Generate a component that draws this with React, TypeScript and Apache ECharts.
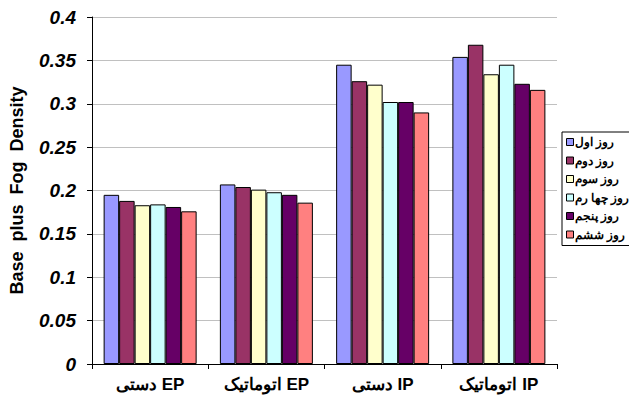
import React, { useEffect, useRef } from "react";
import * as echarts from "echarts";

const categories = ["دستی EP", "اتوماتیک EP", "دستی IP", "اتوماتیک IP"];
const seriesNames = ["روز اول", "روز دوم", "روز سوم", "روز چها رم", "روز پنجم", "روز ششم"];
const day1 = [0.195, 0.207, 0.345, 0.354];
const day2 = [0.188, 0.204, 0.326, 0.368];
const day3 = [0.183, 0.201, 0.322, 0.334];
const day4 = [0.184, 0.198, 0.302, 0.345];
const day5 = [0.181, 0.195, 0.302, 0.323];
const day6 = [0.176, 0.186, 0.290, 0.316];
const seriesValues = [day1, day2, day3, day4, day5, day6];
const colors = ["#9999FF", "#993366", "#FFFFCC", "#CCFFFF", "#660066", "#FF8080"];

export default function App() {
  const ref = useRef<HTMLDivElement>(null);
  useEffect(() => {
    document.body.style.margin = "0";
    const chart = echarts.init(ref.current!, null, { renderer: "svg" });
    chart.setOption({
      animation: false,
      backgroundColor: "#ffffff",
      grid: { left: 89, top: 17, width: 468, height: 347, containLabel: false },
      legend: {
        orient: "vertical",
        left: 562,
        top: 132,
        padding: [4, 5, 5, 4],
        borderColor: "#000",
        borderWidth: 1,
        itemWidth: 7,
        itemHeight: 7,
        itemGap: 6.5,
        icon: "rect",
        data: seriesNames,
        textStyle: {
          fontFamily: "Liberation Sans, Arial",
          fontWeight: "bold",
          fontSize: 12,
          lineHeight: 12,
          color: "#000",
          padding: [0, 0, 0, -4],
        },
        itemStyle: { borderColor: "#000", borderWidth: 1 },
      },
      xAxis: {
        type: "category",
        data: categories,
        axisLine: { lineStyle: { color: "#000", width: 1 } },
        axisTick: { show: true, length: 5, lineStyle: { color: "#000" } },
        axisLabel: {
          fontFamily: "Liberation Sans, Arial",
          fontWeight: "bold",
          fontSize: 17,
          color: "#000",
          margin: 12,
        },
      },
      yAxis: {
        type: "value",
        min: 0,
        max: 0.4,
        interval: 0.05,
        name: "Base  plus  Fog  Density",
        nameLocation: "middle",
        nameGap: 66,
        nameRotate: 90,
        nameTextStyle: { fontFamily: "Liberation Sans, Arial", fontWeight: "bold", fontSize: 18, color: "#000" },
        axisLine: { show: true, lineStyle: { color: "#000", width: 1 } },
        axisTick: { show: true, length: 5, inside: false, lineStyle: { color: "#000" } },
        splitLine: { lineStyle: { color: "#c0c0c0", width: 1 } },
        axisLabel: {
          fontFamily: "Liberation Sans, Arial",
          fontWeight: "bold",
          fontStyle: "italic",
          fontSize: 19,
          color: "#000",
          margin: 16,
          formatter: (v: number) => String(parseFloat(v.toFixed(2))),
        },
      },
      series: seriesNames.map((name, i) => ({
        name,
        type: "bar",
        data: seriesValues[i],
        barGap: "0%",
        barCategoryGap: "20%",
        itemStyle: { color: colors[i], borderColor: "#000", borderWidth: 1 },
      })),
    });
    return () => chart.dispose();
  }, []);
  return <div ref={ref} style={{ width: 629, height: 408, position: "fixed", left: 0, top: 0 }} />;
}
